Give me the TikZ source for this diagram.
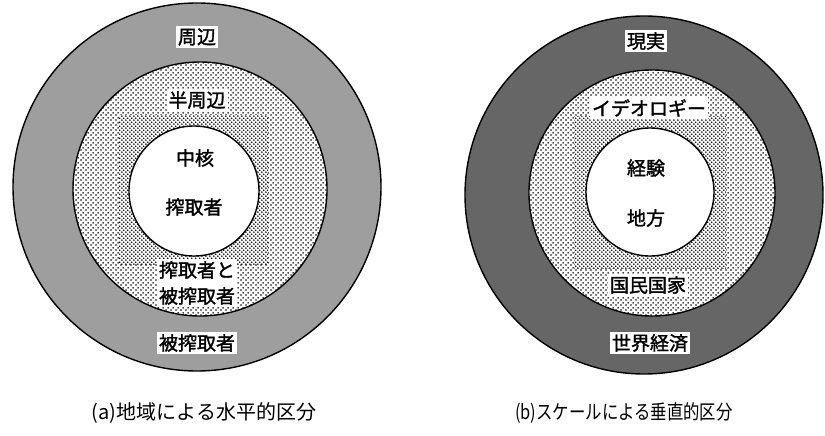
\documentclass[tikz,border=0pt]{standalone}
\usepackage{fontspec}
\usepackage{graphicx}
\usetikzlibrary{patterns}
\newfontfamily\jp{Noto Sans CJK JP}
\newfontfamily\jpb{Noto Sans CJK JP}[FakeBold=1.6]
\pgfdeclarepatternformonly{middots}{\pgfqpoint{0pt}{0pt}}{\pgfqpoint{5pt}{5pt}}{\pgfqpoint{5pt}{5pt}}{%
  \pgfpathcircle{\pgfqpoint{1.25pt}{1.25pt}}{1.05pt}%
  \pgfpathcircle{\pgfqpoint{3.75pt}{3.75pt}}{1.05pt}%
  \pgfusepath{fill}}
\pgfdeclarepatternformonly{densedots}{\pgfqpoint{0pt}{0pt}}{\pgfqpoint{3.8pt}{3.8pt}}{\pgfqpoint{3.8pt}{3.8pt}}{%
  \pgfpathcircle{\pgfqpoint{0.95pt}{0.95pt}}{0.95pt}%
  \pgfpathcircle{\pgfqpoint{2.85pt}{2.85pt}}{0.95pt}%
  \pgfusepath{fill}}
\tikzset{
  ringline/.style={draw=black, line width=1.4pt},
  lab/.style={fill=white, inner sep=2pt, font=\jpb\fontsize{19}{22}\selectfont},
  inlab/.style={inner sep=1pt, font=\jpb\fontsize{19}{22}\selectfont},
  captxt/.style={inner sep=0pt, font=\jp\fontsize{20}{22}\selectfont},
}
\begin{document}
\begin{tikzpicture}[x=1pt,y=-1pt]
\useasboundingbox (0,0) rectangle (825,436);
% ---------- (a) left ----------
\fill[black!38] (197,187) circle (184);
\fill[white] (200,189) circle (127);
\fill[pattern=middots, pattern color=black] (200,189) circle (127);
\fill[white] (119,115) rectangle (268,264);
\fill[pattern=densedots, pattern color=black] (119,115) rectangle (268,264);
\fill[white] (194,191) circle (65);
\draw[ringline] (197,187) circle (184);
\draw[ringline] (200,189) circle (127);
\draw[ringline] (194,191) circle (65);
\node[lab] (a1) at (197,37) {周辺};
\node[lab] (a2) at (197,100) {半周辺};
\node[inlab] (a3) at (195,158) {中核};
\node[inlab] (a4) at (194,207) {搾取者};
\node[lab, align=center, font=\jpb\fontsize{19}{26}\selectfont] (a5) at (197,283) {搾取者と\\被搾取者};
\node[lab] (a6) at (197,343) {被搾取者};
\node[captxt] (ca) at (204,413) {(a)地域による水平的区分};
% ---------- (b) right ----------
\fill[black!60] (644,195) circle (179);
\fill[white] (652,193) circle (123);
\fill[pattern=middots, pattern color=black] (652,193) circle (123);
\fill[white] (574,116) rectangle (726,268);
\fill[pattern=densedots, pattern color=black] (574,116) rectangle (726,268);
\fill[white] (650,192) circle (64);
\draw[ringline] (644,195) circle (179);
\draw[ringline] (652,193) circle (123);
\draw[ringline] (650,192) circle (64);
\node[lab] (b1) at (646,41) {現実};
\node[lab] (b2) at (649,108) {イデオロギー};
\node[inlab] (b3) at (646,168) {経験};
\node[inlab] (b4) at (646,218) {地方};
\node[lab] (b5) at (648,285) {国民国家};
\node[lab] (b6) at (650,343) {世界経済};
\node[captxt] (cb) at (624,413) {\scalebox{0.82}[1]{(b)スケールによる垂直的区分}};
\end{tikzpicture}
\end{document}
